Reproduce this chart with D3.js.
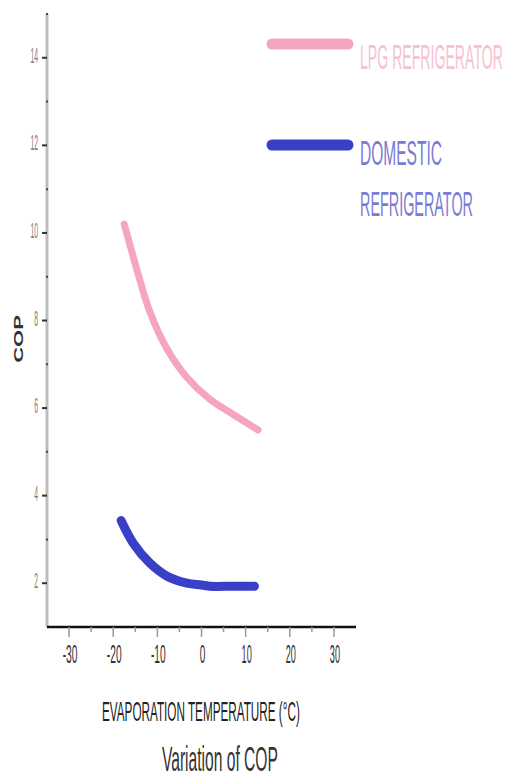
<!DOCTYPE html>
<html><head><meta charset="utf-8">
<script src="https://cdn.jsdelivr.net/npm/d3@7"></script>
<style>html,body{margin:0;padding:0;background:#fff;}svg{display:block;}</style>
</head><body>
<svg id="c" width="507" height="778"></svg>
<script>
const lpgX = [-17.5, -14.6, -11.7, -7.8, -3.3, 1.9, 7.1, 12.8];
const lpgY = [10.2, 9.15, 8.2, 7.35, 6.7, 6.2, 5.86, 5.5];
const domX = [-18.2, -15.5, -11.7, -7.8, -3.3, 0, 2, 7, 12];
const domY = [3.43, 2.92, 2.46, 2.16, 2.0, 1.96, 1.93, 1.93, 1.93];
const xTicks = [-30, -20, -10, 0, 10, 20, 30];
const xMinor = [-25, -15, -5, 5, 15, 25];
const yTicks = [2, 4, 6, 8, 10, 12, 14];
const yMinor = [3, 5, 7, 9, 11, 13, 15];
const seriesNames = ["LPG REFRIGERATOR", ["DOMESTIC", "REFRIGERATOR"]];

const svg = d3.select("#c");
const x = d3.scaleLinear().domain([-35, 35]).range([47, 356]);
const y = d3.scaleLinear().domain([1, 15]).range([627, 14]);
const FONT = "Liberation Sans, Arial, sans-serif";

function ctext(px, py, str, size, w, anchor, fill, weight) {
  const g = svg.append("g");
  const t = g.append("text").attr("font-family", FONT).attr("font-size", size)
    .attr("font-weight", weight || "normal").attr("fill", fill).text(str);
  const nat = t.node().getComputedTextLength();
  const sx = w / nat;
  let off = 0;
  if (anchor === "middle") off = -w / 2;
  if (anchor === "end") off = -w;
  g.attr("transform", `translate(${px + off},${py}) scale(${sx},1)`);
  return g;
}

// y axis (gray)
svg.append("line").attr("x1", x(-35)).attr("x2", x(-35)).attr("y1", y(15)).attr("y2", y(1))
  .attr("stroke", "#bdbdbd").attr("stroke-width", 3);
svg.selectAll(".ym").data(yTicks).join("line")
  .attr("x1", x(-35) - 5).attr("x2", x(-35)).attr("y1", d => y(d)).attr("y2", d => y(d))
  .attr("stroke", "#333").attr("stroke-width", 2);
svg.selectAll(".yn").data(yMinor).join("line")
  .attr("x1", x(-35) - 1).attr("x2", x(-35) + 1).attr("y1", d => y(d)).attr("y2", d => y(d))
  .attr("stroke", "#444").attr("stroke-width", 2);
yTicks.forEach(d => ctext(38, y(d) + 5, String(d), 22, String(d).length * 3.8, "end", "#808080"));

// x axis
svg.append("line").attr("x1", x(-35)).attr("x2", x(35)).attr("y1", y(1)).attr("y2", y(1))
  .attr("stroke", "#111").attr("stroke-width", 2.5);
svg.selectAll(".xm").data(xTicks).join("line")
  .attr("x1", d => x(d)).attr("x2", d => x(d)).attr("y1", y(1)).attr("y2", y(1) + 10)
  .attr("stroke", "#999").attr("stroke-width", 1.5);
svg.selectAll(".xn").data(xMinor).join("line")
  .attr("x1", d => x(d)).attr("x2", d => x(d)).attr("y1", y(1)).attr("y2", y(1) + 5)
  .attr("stroke", "#999").attr("stroke-width", 1.5);
xTicks.forEach(d => ctext(x(d) + 1, 663, String(d), 25, String(d).length * 4.6 + 1, "middle", "#333"));

// axis titles
ctext(102, 721, "EVAPORATION TEMPERATURE (°C)", 27, 198, "start", "#222");
svg.append("g").attr("transform", "translate(23,339) scale(0.6,1) rotate(-90)")
  .append("text").attr("text-anchor", "middle")
  .attr("font-family", FONT).attr("font-size", 22).attr("font-weight", "bold")
  .attr("fill", "#333").text("COP");
ctext(162, 771, "Variation of COP", 35, 116, "start", "#333");

// curves
const line = d3.line().x(d => x(d[0])).y(d => y(d[1])).curve(d3.curveCatmullRom.alpha(0.5));
svg.append("path").datum(lpgX.map((v, i) => [v, lpgY[i]])).attr("d", line)
  .attr("fill", "none").attr("stroke", "#f5a6be").attr("stroke-width", 7).attr("stroke-linecap", "round");
svg.append("path").datum(domX.map((v, i) => [v, domY[i]])).attr("d", line)
  .attr("fill", "none").attr("stroke", "#3a3fc8").attr("stroke-width", 9).attr("stroke-linecap", "round");

// legend
svg.append("line").attr("x1", 272).attr("x2", 348).attr("y1", 44).attr("y2", 44)
  .attr("stroke", "#f5a6be").attr("stroke-width", 11).attr("stroke-linecap", "round");
svg.append("line").attr("x1", 272).attr("x2", 348).attr("y1", 145).attr("y2", 145)
  .attr("stroke", "#3a3fc8").attr("stroke-width", 11).attr("stroke-linecap", "round");
ctext(360, 69, seriesNames[0], 36, 143, "start", "#f7c1d0");
ctext(360, 165, seriesNames[1][0], 35, 82, "start", "#7a7cd4");
ctext(360, 216, seriesNames[1][1], 35, 113, "start", "#7a7cd4");
</script>
</body></html>
